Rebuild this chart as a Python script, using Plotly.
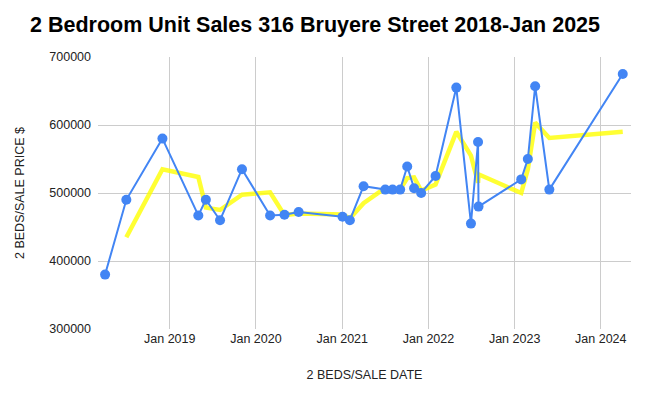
import plotly.graph_objects as go
import pandas as pd

sale_dates = [
    "2018-04-02", "2018-07-01", "2018-12-01", "2019-05-02", "2019-06-03",
    "2019-08-02", "2019-11-03", "2020-03-01", "2020-05-01", "2020-06-30",
    "2021-01-02", "2021-02-02", "2021-04-01", "2021-07-02", "2021-08-02",
    "2021-09-03", "2021-10-03", "2021-11-01", "2021-12-01", "2022-01-31",
    "2022-04-29", "2022-06-30", "2022-07-30", "2022-08-01", "2023-01-29",
    "2023-02-26", "2023-03-29", "2023-05-28", "2024-04-03",
]
sale_prices = [
    380000, 490000, 580000, 467000, 490000,
    460000, 535000, 467000, 468000, 472000,
    465000, 460000, 510000, 505000, 505000,
    505000, 539000, 507000, 500000, 525000,
    655000, 455000, 575000, 480000, 520000,
    550000, 657000, 505000, 675000,
]
# 2-period moving average trendline (as drawn in the source chart)
trend_period = 2

moving_avg = pd.Series(sale_prices).rolling(trend_period).mean().tolist()

# the page body has an 8px default margin; the figure is sized to fit the window
W, H = 637, 391

fig = go.Figure()
fig.add_trace(go.Scatter(
    x=sale_dates, y=moving_avg, mode="lines",
    line=dict(color="rgba(255,255,0,0.8)", width=4.5),
    hoverinfo="skip", showlegend=False,
))
fig.add_trace(go.Scatter(
    x=sale_dates, y=sale_prices, mode="lines+markers",
    line=dict(color="#4285F4", width=2),
    marker=dict(color="#4285F4", size=10),
    showlegend=False,
))

fig.update_layout(
    width=W, height=H,
    margin=dict(l=87, r=14, t=49, b=70),
    paper_bgcolor="white", plot_bgcolor="white",
    font=dict(family="Liberation Sans, Arial, sans-serif", size=12.5, color="#222222"),
    title=dict(
        text="<b>2 Bedroom Unit Sales 316 Bruyere Street 2018-Jan 2025</b>",
        x=22 / W, xanchor="left", y=1 - 16 / H, yanchor="middle",
        font=dict(size=21.5, color="#000000"),
    ),
    xaxis=dict(
        range=["2018-03-03", "2024-05-08"],
        tickformat="%b %Y", dtick="M12", tick0="2019-01-01",
        showgrid=True, gridcolor="#cccccc", gridwidth=1,
        zeroline=False, showline=False, ticks="",
        title=dict(text="2 BEDS/SALE DATE", standoff=25, font=dict(size=12.5)),
    ),
    yaxis=dict(
        range=[300000, 700000], dtick=100000, tickformat="d",
        showgrid=True, gridcolor="#cccccc", gridwidth=1,
        zeroline=False, showline=False, ticks="",
        ticklabelstandoff=6,
        title=dict(text="2 BEDS/SALE PRICE $", standoff=21, font=dict(size=12.5)),
    ),
)

fig.write_html("out.html")
